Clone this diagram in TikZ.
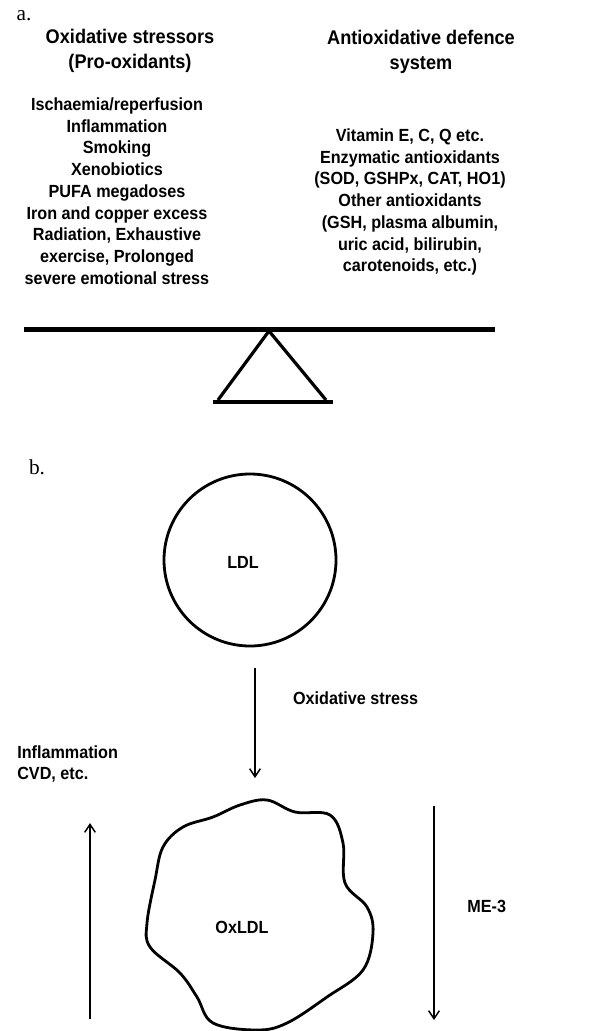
\documentclass[tikz,border=0pt]{standalone}
\usepackage{fontspec}
\setmainfont{Liberation Sans}[FakeStretch=0.92]
\newfontfamily\tagfont{Liberation Serif}
\usetikzlibrary{arrows.meta,positioning}

\begin{document}
\begin{tikzpicture}[x=0.75pt,y=-0.75pt,
	txt/.style={align=center,inner sep=0pt,font=\bfseries\fontsize{13.2}{16.3}\selectfont},
	head/.style={align=center,inner sep=0pt,font=\bfseries\fontsize{14.8}{19.3}\selectfont},
	tag/.style={inner sep=0pt,font=\tagfont\fontsize{16}{18}\selectfont},
	arr/.style={line width=1.1pt,-{Straight Barb[length=6pt,width=8pt,line width=1.1pt]}},
	blob/.style={line width=2.1pt,line join=round}]
	\useasboundingbox (0,0) rectangle (606,1031);
	\node[tag] (a) at (24,16) {a.};
	\node[head] (pro_h) at (130,51) {Oxidative stressors\\(Pro-oxidants)};
	\node[head] (anti_h) at (421,52) {Antioxidative defence\\system};
	\node[txt] (pro) at (117,191) {Ischaemia/reperfusion\\Inflammation\\Smoking\\Xenobiotics\\PUFA megadoses\\Iron and copper excess\\Radiation, Exhaustive\\exercise, Prolonged\\severe emotional stress};
	\node[txt] (anti) at (410,202) {Vitamin E, C, Q etc.\\Enzymatic antioxidants\\(SOD, GSHPx, CAT, HO1)\\Other antioxidants\\(GSH, plasma albumin,\\uric acid, bilirubin,\\carotenoids, etc.)};
	\draw[line width=3.4pt] (24,329.5) -- (495,329.5);
	\draw[line width=2.4pt] (218,400) -- (269,331) -- (326,400);
	\draw[line width=3.3pt] (213,402) -- (333,402);
	\node[tag] (b) at (37,467) {b.};
	\node[draw,circle,line width=2.1pt,minimum size=129pt,inner sep=0pt] (ldl) at (250,560) {};
	\node[txt] (ldl_lab) at (243,562) {LDL};
	\draw[blob] plot[smooth cycle,tension=0.6] coordinates {(240,805) (267,800) (295,812) (330,815) (343,843) (345,883) (367,907) (373,933) (363,970) (327,997) (287,1023) (257,1030) (213,1023) (197,997) (180,973) (150,947) (147,923) (155,880) (163,847) (183,827) (213,817)};
	\node[txt] (oxldl) at (242,927) {OxLDL};
	\coordinate (os_0) at (255,668);
	\coordinate (os_1) at (255,778);
	\coordinate (me_0) at (434,806);
	\coordinate (me_1) at (434,1020);
	\coordinate (cvd_0) at (90,1019);
	\coordinate (cvd_1) at (90,823);
	\path[arr]
	(os_0)
	edge node[txt,pos=0.27,anchor=west,right=28pt] (os_lab) {Oxidative stress} (os_1)
	(me_0)
	edge node[txt,pos=0.47,anchor=west,right=24.5pt] (me_lab) {ME-3} (me_1)
	(cvd_0)
	edge (cvd_1);
	\node[txt,align=left,anchor=west] (cvd_lab) at (17,764) {Inflammation\\CVD, etc.};
\end{tikzpicture}
\end{document}
